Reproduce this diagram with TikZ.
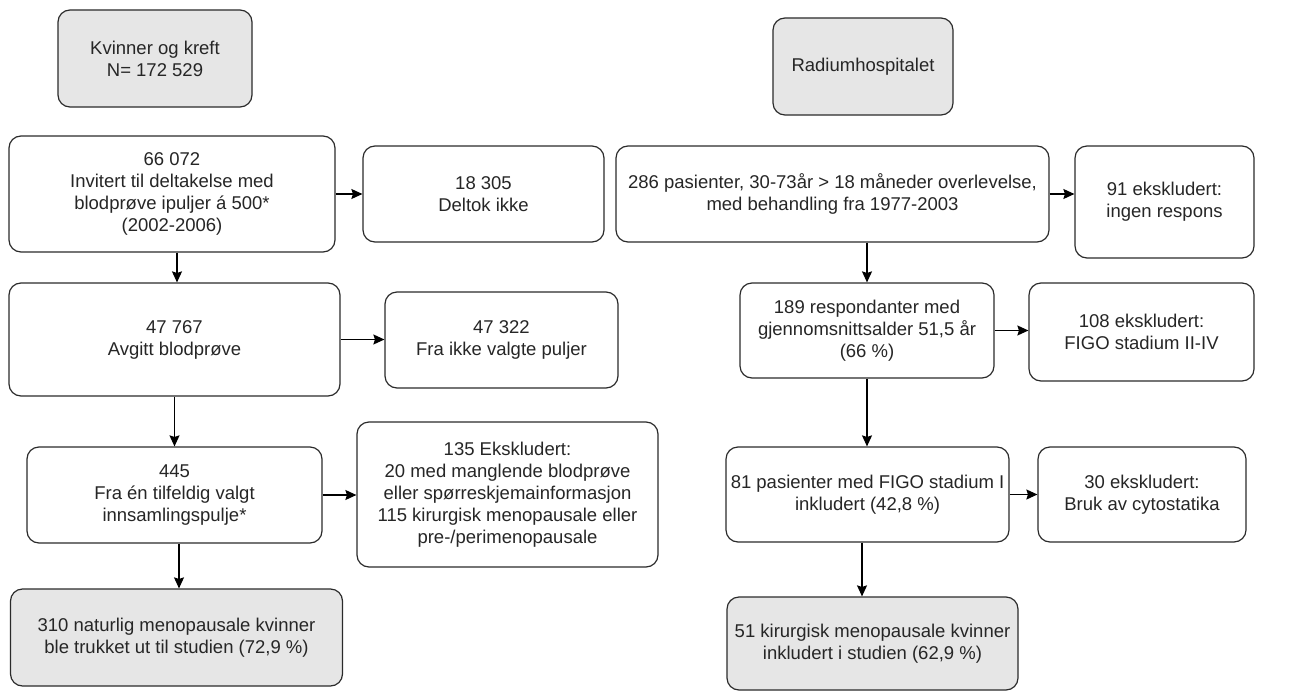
\documentclass[tikz,border=0pt]{standalone}
\usepackage{fontspec}
\setmainfont{Liberation Sans}
\usetikzlibrary{arrows.meta}
\definecolor{boxline}{HTML}{2B2B2B}
\definecolor{boxgray}{HTML}{E6E6E6}
\definecolor{txt}{HTML}{262626}
\tikzset{
  box/.style={draw=boxline, rounded corners=12pt, line width=1.2pt, align=center,
    inner sep=0pt, text=txt, font=\fontsize{18.5}{22}\selectfont, fill=white},
  graybox/.style={box, fill=boxgray},
  conn/.style={draw=black, line width=1.3pt, -{Stealth[length=11pt,width=10pt,inset=1.5pt]}},
}
\begin{document}
\begin{tikzpicture}[x=1pt,y=-1pt]
\useasboundingbox (0,0) rectangle (1311,693);
% left column
\node[graybox, minimum width=194pt, minimum height=97pt] (kk) at (155,58.5) {Kvinner og kreft\\N= 172 529};
\node[box, minimum width=326pt, minimum height=116pt] (inv) at (172,194) {66 072\\Invitert til deltakelse med\\blodprøve ipuljer á 500*\\(2002-2006)};
\node[box, minimum width=241pt, minimum height=96pt] (delt) at (483.5,194) {18 305\\Deltok ikke};
\node[box, minimum width=331pt, minimum height=113pt] (avg) at (174.5,339.5) {47 767\\Avgitt blodprøve};
\node[box, minimum width=233pt, minimum height=96pt] (fra) at (501.5,340) {47 322\\Fra ikke valgte puljer};
\node[box, minimum width=295pt, minimum height=96pt] (tilf) at (174.5,495) {445\\Fra én tilfeldig valgt\\innsamlingspulje*};
\node[box, minimum width=301pt, minimum height=145pt] (eks) at (507.5,494.5) {135 Ekskludert:\\20 med manglende blodprøve\\eller spørreskjemainformasjon\\115 kirurgisk menopausale eller\\pre-/perimenopausale};
\node[graybox, minimum width=332pt, minimum height=97pt] (nat) at (176.5,637.5) {310 naturlig menopausale kvinner\\ble trukket ut til studien (72,9 \%)};
% right column
\node[graybox, minimum width=180pt, minimum height=97pt] (rad) at (863,66.5) {Radiumhospitalet};
\node[box, minimum width=433pt, minimum height=96pt] (pas) at (832.5,194) {286 pasienter, 30-73år > 18 måneder overlevelse,\\med behandling fra 1977-2003};
\node[box, minimum width=179pt, minimum height=112pt] (ingen) at (1164.5,202) {91 ekskludert:\\ingen respons};
\node[box, minimum width=254pt, minimum height=95pt] (resp) at (867,330.5) {189 respondanter med\\gjennomsnittsalder 51,5 år\\(66 \%)};
\node[box, minimum width=225pt, minimum height=98pt] (figo) at (1141.5,332) {108 ekskludert:\\FIGO stadium II-IV};
\node[box, minimum width=283pt, minimum height=95pt] (inkl) at (867.5,494.5) {81 pasienter med FIGO stadium I\\inkludert (42,8 \%)};
\node[box, minimum width=208pt, minimum height=95pt] (cyto) at (1142,494.5) {30 ekskludert:\\Bruk av cytostatika};
\node[graybox, minimum width=291pt, minimum height=93pt] (kir) at (872.5,643.5) {51 kirurgisk menopausale kvinner\\inkludert i studien (62,9 \%)};
% connectors left
\draw[conn] (inv.east) -- (inv.east -| delt.west);
\draw[conn] ([xshift=5pt]inv.south) -- ([xshift=5pt]inv.south |- avg.north);
\draw[conn] (avg.east) -- (avg.east -| fra.west);
\draw[conn] (avg.south) -- (avg.south |- tilf.north);
\draw[conn] (tilf.east) -- (tilf.east -| eks.west);
\draw[conn] ([xshift=4.5pt]tilf.south) -- ([xshift=4.5pt]tilf.south |- nat.north);
% connectors right
\draw[conn] (pas.east) -- (pas.east -| ingen.west);
\draw[conn] (resp.north |- pas.south) -- (resp.north);
\draw[conn] (resp.east) -- (resp.east -| figo.west);
\draw[conn] (resp.south) -- (resp.south |- inkl.north);
\draw[conn] (inkl.east) -- (inkl.east -| cyto.west);
\draw[conn] ([xshift=-5.5pt]inkl.south) -- ([xshift=-5.5pt]inkl.south |- kir.north);
\end{tikzpicture}
\end{document}
